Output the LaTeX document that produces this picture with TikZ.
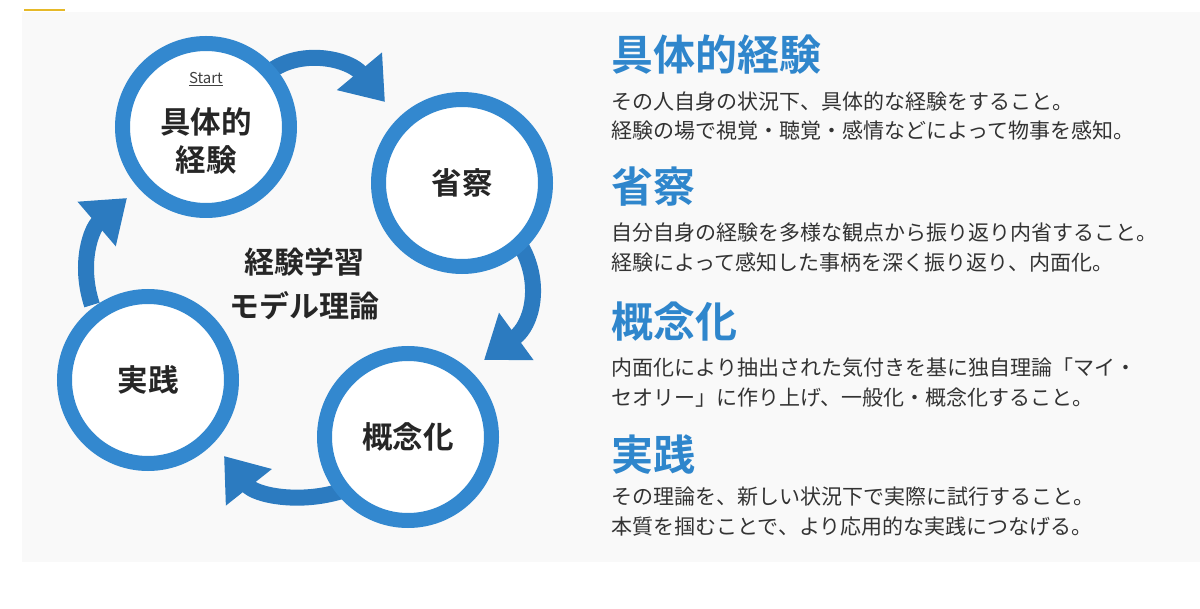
\documentclass[tikz,border=0pt]{standalone}
\usepackage{fontspec}
\newfontfamily\jp{Noto Sans CJK JP}[BoldFont={Noto Sans CJK JP Bold}]
\usetikzlibrary{arrows.meta}
\definecolor{ring}{HTML}{3388CF}
\definecolor{arr}{HTML}{2C7BC0}
\definecolor{ttl}{HTML}{2F86CC}
\definecolor{txt}{HTML}{333333}
\definecolor{panel}{HTML}{F9F9F9}
\begin{document}
\begin{tikzpicture}[x=1pt,y=-1pt,
  cyc/.style={circle,draw=ring,line width=15pt,fill=white,minimum size=167pt,inner sep=0pt,font=\jp\bfseries\fontsize{30.5}{38}\selectfont,align=center,text=black!85},
  ar/.style={draw=arr,line width=16pt,-{Triangle[length=40pt,width=56pt]}},
  ttl/.style={anchor=west,font=\jp\bfseries\fontsize{42}{46}\selectfont,text=ttl},
  bd/.style={anchor=west,font=\jp\fontsize{21}{24}\selectfont,text=txt}]
\useasboundingbox (0,0) rectangle (1200,609);
\fill[white] (0,0) rectangle (1200,609);
\fill[panel] (22,12) rectangle (1200,562);
\draw[draw={rgb,255:red,230;green,185;blue,40},line width=1.5pt] (24,10) -- (65,10);
% arrows
\coordinate (a1s) at (272,70); \coordinate (a1e) at (385,102);
\coordinate (a2s) at (522,248); \coordinate (a2e) at (484,360);
\coordinate (a3s) at (345,490); \coordinate (a3e) at (224,456);
\coordinate (a4s) at (92,305); \coordinate (a4e) at (127,198);
\draw[ar] (a1s) .. controls (305,48) and (350,60) .. (a1e);
\draw[ar] (a2s) .. controls (542,285) and (532,325) .. (a2e);
\draw[ar] (a3s) .. controls (300,505) and (255,495) .. (a3e);
\draw[ar] (a4s) .. controls (78,262) and (92,228) .. (a4e);
% circles
\node[cyc] (c1) at (206,127) {};
\node[font=\jp\bfseries\fontsize{30.5}{38}\selectfont,align=center,text=black!85] (c1t) at (206,141) {具体的\\経験};
\node[anchor=center,font=\jp\fontsize{15}{18}\selectfont,text=black!75] (st) at (206,79) {\underline{Start}};
\node[cyc] (c2) at (462,183) {省察};
\node[cyc] (c3) at (408,437) {概念化};
\node[cyc] (c4) at (148,380) {実践};
\node[font=\jp\bfseries\fontsize{30}{44}\selectfont,align=center,text=black!85] (ct) at (304,284) {経験学習\\モデル理論};
% right text
\node[ttl] (t1) at (608,55) {具体的経験};
\node[bd] (l11) at (608,102) {その人自身の状況下、具体的な経験をすること。};
\node[bd] (l12) at (608,131) {経験の場で視覚・聴覚・感情などによって物事を感知。};
\node[ttl] (t2) at (608,187) {省察};
\node[bd] (l21) at (608,233) {自分自身の経験を多様な観点から振り返り内省すること。};
\node[bd] (l22) at (608,262) {経験によって感知した事柄を深く振り返り、内面化。};
\node[ttl] (t3) at (608,322) {概念化};
\node[bd] (l31) at (608,368) {内面化により抽出された気付きを基に独自理論「マイ・};
\node[bd] (l32) at (608,398) {セオリー」に作り上げ、一般化・概念化すること。};
\node[ttl] (t4) at (608,455) {実践};
\node[bd] (l41) at (608,497) {その理論を、新しい状況下で実際に試行すること。};
\node[bd] (l42) at (608,527) {本質を掴むことで、より応用的な実践につなげる。};
\end{tikzpicture}
\end{document}
